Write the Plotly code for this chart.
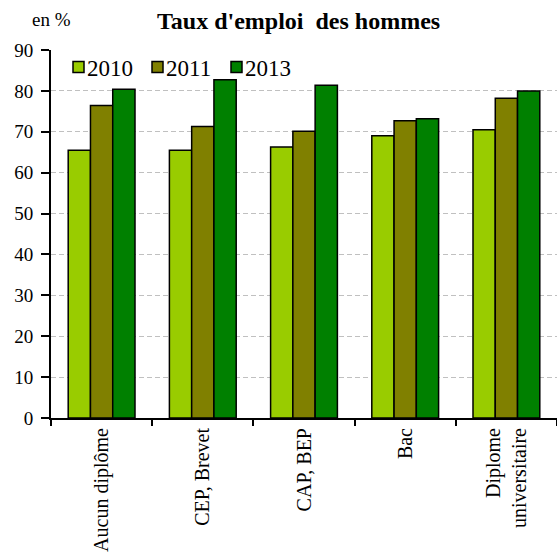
import plotly.graph_objects as go

categories = ["Aucun diplôme", "CEP, Brevet", "CAP, BEP", "Bac", "Diplome<br>universitaire"]
years = ["2010", "2011", "2013"]
rate_2010 = [65.5, 65.5, 66.3, 69.0, 70.5]
rate_2011 = [76.4, 71.3, 70.1, 72.7, 78.2]
rate_2013 = [80.4, 82.7, 81.4, 73.2, 80.0]
colors = ["#99CC00", "#808000", "#008000"]
y_ticks = [0, 10, 20, 30, 40, 50, 60, 70, 80, 90]

serif = "Liberation Serif"

fig = go.Figure()
for name, vals, col in zip(years, [rate_2010, rate_2011, rate_2013], colors):
    fig.add_trace(go.Bar(
        x=categories, y=vals, name=name, showlegend=False,
        marker=dict(color=col, line=dict(color="black", width=1.5)),
    ))

# Compact legend: small outlined swatch followed closely by the year
W, H = 557, 559
ML, MR, MT, MB = 51, 0, 50, 141
pw, ph = W - ML - MR, H - MT - MB
legend_x0 = [73, 152, 231]  # left edge of each swatch, px from the figure's left
shapes = []
annotations = []
for x0, name, col in zip(legend_x0, years, colors):
    xa = (x0 - ML) / pw
    xb = (x0 + 11 - ML) / pw
    yc = 1 - (67 - MT) / ph
    half = 5.5 / ph
    shapes.append(dict(type="rect", xref="paper", yref="paper",
                       x0=xa, x1=xb, y0=yc - half, y1=yc + half,
                       fillcolor=col, line=dict(color="black", width=1.5), layer="above"))
    annotations.append(dict(text=name, xref="paper", yref="paper",
                            x=xb, xshift=1, y=yc, yshift=-1, xanchor="left", yanchor="middle",
                            showarrow=False, font=dict(size=23, family=serif)))

annotations += [
    dict(text="<b>Taux d'emploi  des hommes</b>", xref="paper", yref="paper",
         x=(298 - ML) / pw, y=1.0, yshift=29, xanchor="center", yanchor="middle",
         showarrow=False, font=dict(size=24, family=serif)),
    dict(text="en %", xref="paper", yref="paper", x=0, xshift=-21, y=1.0, yshift=31,
         xanchor="left", yanchor="middle", showarrow=False,
         font=dict(size=19, family=serif)),
]

fig.update_layout(
    width=W, height=H,
    margin=dict(l=ML, r=MR, t=MT, b=MB),
    paper_bgcolor="white", plot_bgcolor="white",
    barmode="group", bargap=0.34, bargroupgap=0,
    font=dict(family=serif, color="black", size=18),
    showlegend=False,
    xaxis=dict(showline=True, linecolor="black", linewidth=2,
               ticks="outside", tickson="boundaries", ticklen=6, tickwidth=1.5, tickcolor="black",
               tickangle=-90, tickfont=dict(size=20, family=serif),
               showgrid=False),
    yaxis=dict(range=[0, 90], tickvals=y_ticks, showline=True, linecolor="black", linewidth=2,
               ticks="outside", ticklen=8, tickwidth=1.5, tickcolor="black",
               tickfont=dict(size=19, family=serif), ticklabelstandoff=4,
               showgrid=True, gridcolor="#c0c0c0", griddash="5px,3px", gridwidth=1,
               zeroline=False),
    shapes=shapes,
    annotations=annotations,
)

fig.write_html("out.html")
